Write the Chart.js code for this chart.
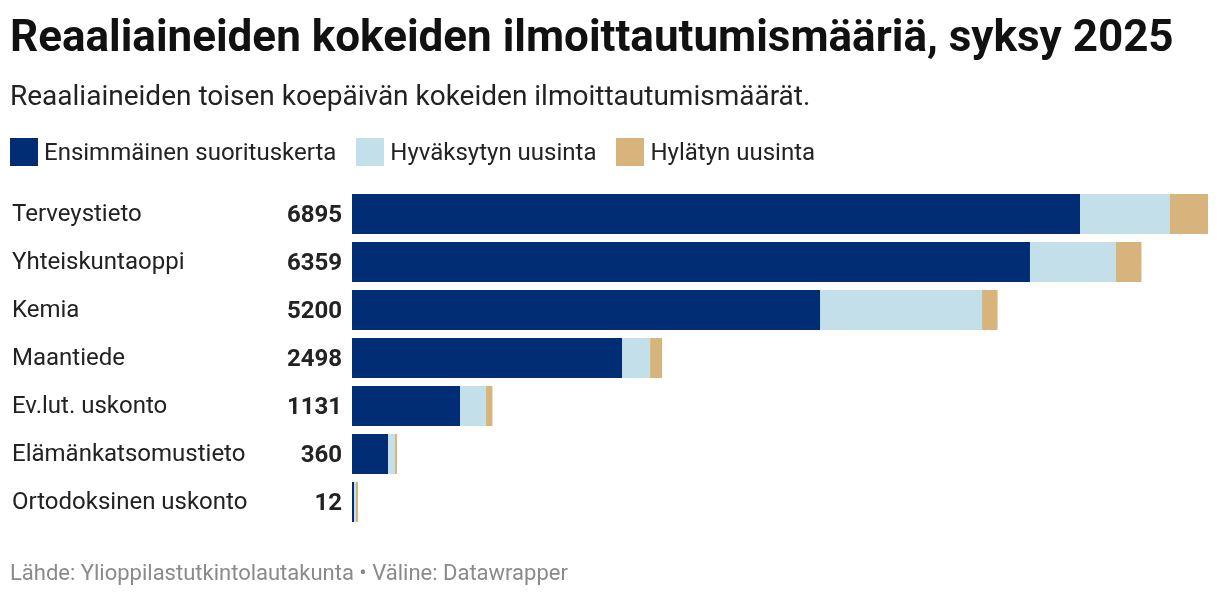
<!DOCTYPE html>
<html lang="fi">
<head>
<meta charset="utf-8">
<script src="https://cdn.jsdelivr.net/npm/chart.js@4"></script>
<style>
  html, body { margin: 0; padding: 0; background: #fff; }
  body { width: 1220px; height: 598px; position: relative; overflow: hidden; font-family: Roboto, "Noto Sans", sans-serif; color: #1a1a1a; }
  #title { position: absolute; left: 10px; top: 14px; font-size: 44px; line-height: 44px; font-weight: 700; color: #111; white-space: nowrap; }
  #subtitle { position: absolute; left: 10px; top: 82px; font-size: 28px; line-height: 28px; color: #222; white-space: nowrap; }
  #legend { position: absolute; left: 10px; top: 138px; display: flex; font-size: 24px; line-height: 28px; color: #222; }
  #legend .item { display: flex; align-items: center; margin-right: 20px; }
  #legend .sw { width: 28px; height: 28px; margin-right: 6px; }
  #footer { position: absolute; left: 10px; top: 562px; font-size: 22px; line-height: 22px; color: #8a8a8a; white-space: nowrap; }
  #wrap { position: absolute; left: 0; top: 0; width: 1220px; height: 598px; }
</style>
</head>
<body>
<div id="wrap"><canvas id="chart"></canvas></div>
<div id="title">Reaaliaineiden kokeiden ilmoittautumismääriä, syksy 2025</div>
<div id="subtitle">Reaaliaineiden toisen koepäivän kokeiden ilmoittautumismäärät.</div>
<div id="legend"></div>
<div id="footer">Lähde: Ylioppilastutkintolautakunta • Väline: Datawrapper</div>
<script>
// subjects, top to bottom
const subjects = ['Terveystieto', 'Yhteiskuntaoppi', 'Kemia', 'Maantiede', 'Ev.lut. uskonto', 'Elämänkatsomustieto', 'Ortodoksinen uskonto'];
const firstTime = [5864, 5461, 3770, 2175, 870, 290, 6];
const passedRetake = [725, 693, 1305, 226, 209, 56, 1];
const failedRetake = [306, 205, 125, 97, 52, 14, 5];
const totals = [6895, 6359, 5200, 2498, 1131, 360, 12];

const seriesNames = ['Ensimmäinen suorituskerta', 'Hyväksytyn uusinta', 'Hylätyn uusinta'];
const colors = ['#002d74', '#c2dfea', '#d6b47c'];

// html legend
const legendEl = document.getElementById('legend');
seriesNames.forEach((name, i) => {
    const item = document.createElement('div');
    item.className = 'item';
    item.innerHTML = '<span class="sw" style="background:' + colors[i] + '"></span>' + name;
    legendEl.appendChild(item);
});

// category names on the left, totals right-aligned before the bars
const rowLabels = {
    id: 'rowLabels',
    afterDatasetsDraw(chart) {
        const ctx = chart.ctx;
        const y = chart.scales.y;
        ctx.save();
        ctx.textBaseline = 'alphabetic';
        subjects.forEach((name, i) => {
            const py = y.getPixelForValue(i);
            ctx.font = '24px Roboto';
            ctx.fillStyle = '#222';
            ctx.textAlign = 'left';
            ctx.fillText(name, 12, py + 7);
            ctx.font = 'bold 24px Roboto';
            ctx.fillStyle = '#222';
            ctx.textAlign = 'right';
            ctx.fillText(String(totals[i]), 342, py + 8);
        });
        ctx.restore();
    }
};

const ctx = document.getElementById('chart').getContext('2d');
new Chart(ctx, {
    type: 'bar',
    data: {
        labels: subjects,
        datasets: [
            { label: seriesNames[0], data: firstTime, backgroundColor: colors[0] },
            { label: seriesNames[1], data: passedRetake, backgroundColor: colors[1] },
            { label: seriesNames[2], data: failedRetake, backgroundColor: colors[2] }
        ]
    },
    options: {
        indexAxis: 'y',
        responsive: true,
        maintainAspectRatio: false,
        animation: false,
        layout: { padding: { left: 352, right: 12, top: 190, bottom: 72 } },
        datasets: { bar: { categoryPercentage: 1, barPercentage: 0.833, borderWidth: 0, minBarLength: 2 } },
        scales: {
            x: { stacked: true, display: false, min: 0, max: Math.max(...totals) },
            y: { stacked: true, display: false }
        },
        plugins: {
            legend: { display: false },
            tooltip: { enabled: false }
        }
    },
    plugins: [rowLabels]
});
</script>
</body>
</html>
